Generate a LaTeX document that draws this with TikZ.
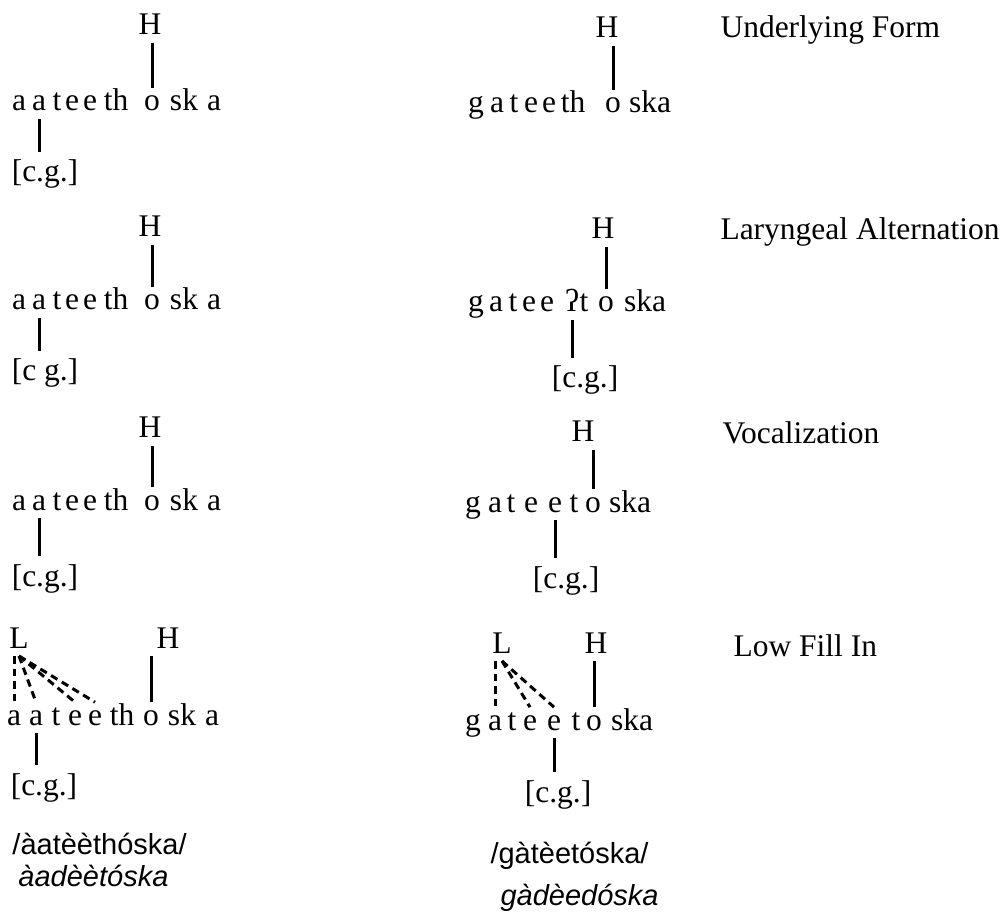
\documentclass[tikz,border=0pt]{standalone}
\usepackage{fontspec}
\setmainfont{Liberation Serif}
\newfontfamily\glossfont{Liberation Sans}
\tikzset{
  seg/.style={anchor=base,inner sep=3pt,font=\fontsize{12.6}{15}\selectfont},
  tone/.style={seg},
  feat/.style={seg},
  stage/.style={anchor=base west,inner sep=0pt,font=\fontsize{12.6}{15}\selectfont},
  gloss/.style={anchor=base west,inner sep=0pt,font=\glossfont\fontsize{11.6}{14}\selectfont},
  assoc/.style={line width=1.2pt},
  lowlink/.style={line width=1.2pt,dash pattern=on 3pt off 2pt}
}

\begin{document}
\begin{tikzpicture}[x=0.4pt,y=-0.4pt]
  \useasboundingbox (0,0) rectangle (1004,917);
  % left column
  \foreach \r/\y/\h/\c/\cg in {1/111/35/182/{[c.g.]},2/310/237/381/{[c g.]},3/510/438/586/{[c.g.]}} {
    \foreach \s/\x [count=\i] in {a/19,a/39,t/57,e/72,e/90,th/116,o/152,sk/184,a/214}
      \node[seg] (l\r s\i) at (\x,\y) {\s};
    \node[tone] (l\r H) at (150,\h) {H};
    \node[feat] (l\r cg) at (45,\c) {\cg};
    \draw[assoc] (l\r s7.north) -- (l\r s7.north |- l\r H.south);
    \draw[assoc] (l\r s2.south) -- (l\r s2.south |- l\r cg.north);
  }
  \foreach \s/\x [count=\i] in {a/14,a/36,t/56,e/75,e/95,th/122,o/151,sk/182,a/212}
    \node[seg] (l4s\i) at (\x,725) {\s};
  \node[tone] (l4L) at (19,648) {L};
  \node[tone] (l4H) at (168,648) {H};
  \node[feat] (l4cg) at (44,795) {[c.g.]};
  \draw[assoc] (l4s7.north) -- (l4s7.north |- l4H.south);
  \draw[assoc] (l4s2.south) -- (l4s2.south |- l4cg.north);
  \draw[lowlink] (l4s1.north |- l4L.south) -- (l4s1.north);
  \draw[lowlink] (l4L.south) -- (l4s2.north);
  \draw[lowlink] (l4L.south) -- (l4s4.north);
  \draw[lowlink] (l4L.south) -- (l4s5.north);

  % right column
  \foreach \s/\x [count=\i] in {g/476,a/497,t/514,e/531,e/549,th/573,o/613,ska/650}
    \node[seg] (r1s\i) at (\x,113) {\s};
  \node[tone] (r1H) at (607,38) {H};
  \draw[assoc] (r1s7.north) -- (r1s7.north |- r1H.south);

  \foreach \s/\x [count=\i] in {g/476,a/496,t/513,e/529,e/547,ʔ/572,t/584,o/606,ska/645}
    \node[seg] (r2s\i) at (\x,312) {\s};
  \node[tone] (r2H) at (603,239) {H};
  \node[feat] (r2cg) at (585,388) {[c.g.]};
  \draw[assoc] (r2s8.north) -- (r2s8.north |- r2H.south);
  \draw[assoc] (r2s6.south) -- (r2s6.south |- r2cg.north);

  \foreach \s/\x [count=\i] in {g/473,a/495,t/511,e/531,e/555,t/574,o/593,ska/630}
    \node[seg] (r3s\i) at (\x,512) {\s};
  \node[tone] (r3H) at (583,442) {H};
  \node[feat] (r3cg) at (566,588) {[c.g.]};
  \draw[assoc] (r3s7.north) -- (r3s7.north |- r3H.south);
  \draw[assoc] (r3s5.south) -- (r3s5.south |- r3cg.north);

  \foreach \s/\x [count=\i] in {g/473,a/495,t/512,e/530,e/554,t/576,o/594,ska/632}
    \node[seg] (r4s\i) at (\x,730) {\s};
  \node[tone] (r4L) at (502,653) {L};
  \node[tone] (r4H) at (596,653) {H};
  \node[feat] (r4cg) at (558,802) {[c.g.]};
  \draw[assoc] (r4s7.north) -- (r4s7.north |- r4H.south);
  \draw[assoc] (r4s5.south) -- (r4s5.south |- r4cg.north);
  \draw[lowlink] (r4s2.north |- r4L.south) -- (r4s2.north);
  \draw[lowlink] (r4L.south) -- (r4s4.north);
  \draw[lowlink] (r4L.south) -- (r4s5.north);

  % stages
  \node[stage] (st1) at (720,38) {Underlying Form};
  \node[stage] (st2) at (720,240) {Laryngeal Alternation};
  \node[stage] (st3) at (722,443) {Vocalization};
  \node[stage] (st4) at (733,656) {Low Fill In};

  % surface forms
  \node[gloss] (lph) at (12,854) {/àatèèthóska/};
  \node[gloss] (lsf) at (18,886) {\itshape àadèètóska};
  \node[gloss] (rph) at (490,863) {/gàtèetóska/};
  \node[gloss] (rsf) at (500,905) {\itshape gàdèedóska};
\end{tikzpicture}
\end{document}
